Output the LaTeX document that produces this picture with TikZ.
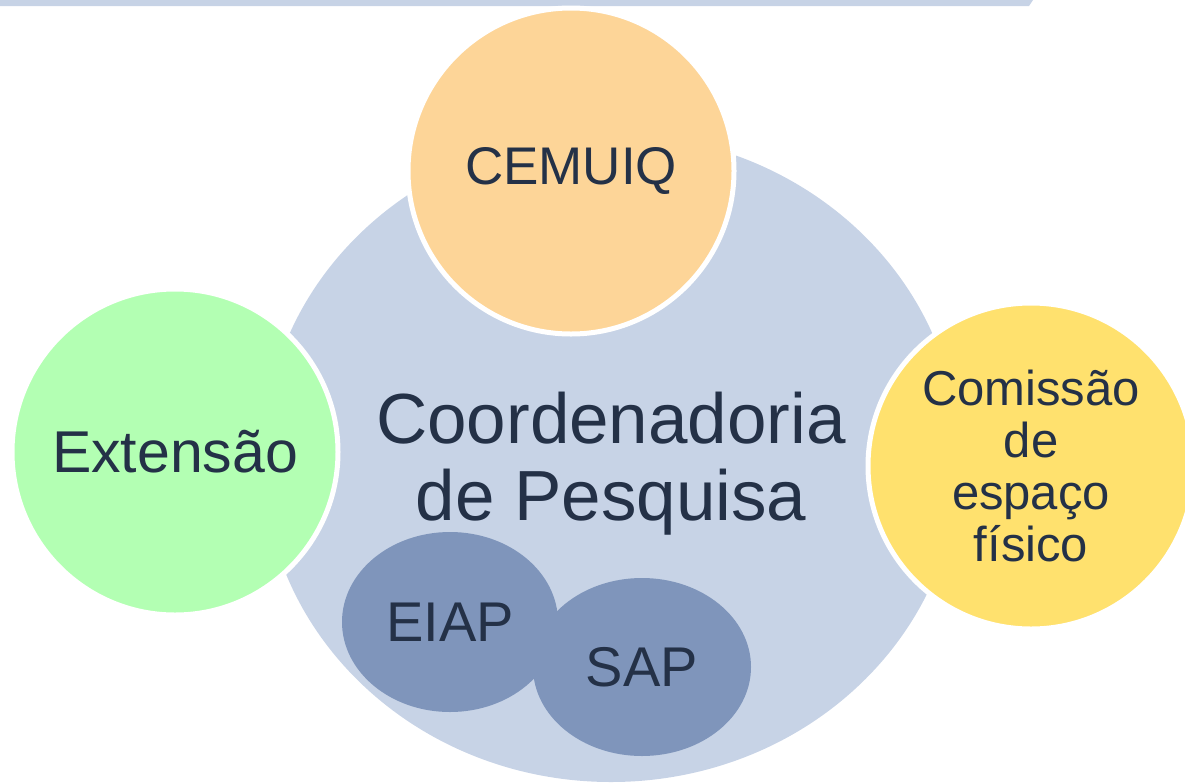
\documentclass[tikz,border=0pt]{standalone}
\usepackage{fontspec}
\setmainfont{Liberation Sans}
\usetikzlibrary{shapes.geometric}

\definecolor{coordblue}{HTML}{C7D3E6}
\definecolor{cemuiqorange}{HTML}{FDD598}
\definecolor{extgreen}{HTML}{B3FFB3}
\definecolor{comyellow}{HTML}{FFE16E}
\definecolor{subblue}{HTML}{7F95BB}
\definecolor{txt}{HTML}{243147}

\begin{document}
\begin{tikzpicture}[x=1pt,y=-1pt,
        ring/.style={circle, draw=white, line width=5pt, inner sep=0pt,
            minimum size=326pt, text=txt},
        sub/.style={ellipse, fill=subblue, inner sep=0pt, minimum width=216pt,
            minimum height=180pt, text=txt, font=\fontsize{56}{60}\selectfont}]
    \path[use as bounding box, clip] (0,0) rectangle (1185,782);

    % top band
    \fill[coordblue] (0,0) -- (1033,0) -- (1029,6) -- (0,6) -- cycle;

    % central shape
    \node[ellipse, fill=coordblue, inner sep=0pt, minimum width=696pt,
        minimum height=648pt] (coord) at (611,458) {};
    \node[text=txt, align=center, anchor=base, font=\fontsize{71}{77}\selectfont]
        (coordtxt) at (611,520) {Coordenadoria\\de Pesquisa};

    % outer circles
    \node[ring, fill=cemuiqorange, font=\fontsize{53}{58}\selectfont] (cemuiq) at (571,171) {CEMUIQ};
    \node[ring, fill=extgreen, font=\fontsize{59}{62}\selectfont] (ext) at (175,452) {Extensão};
    \node[ring, fill=comyellow, align=center, font=\fontsize{49}{52}\selectfont]
        (com) at (1031,466) {Comissão\\de\\espaço\\físico};

    % inner groups
    \node[sub] (eiap) at (450,622) {EIAP};
    \node[sub, minimum width=218pt, minimum height=178pt] (sap) at (642,667) {SAP};
\end{tikzpicture}
\end{document}
